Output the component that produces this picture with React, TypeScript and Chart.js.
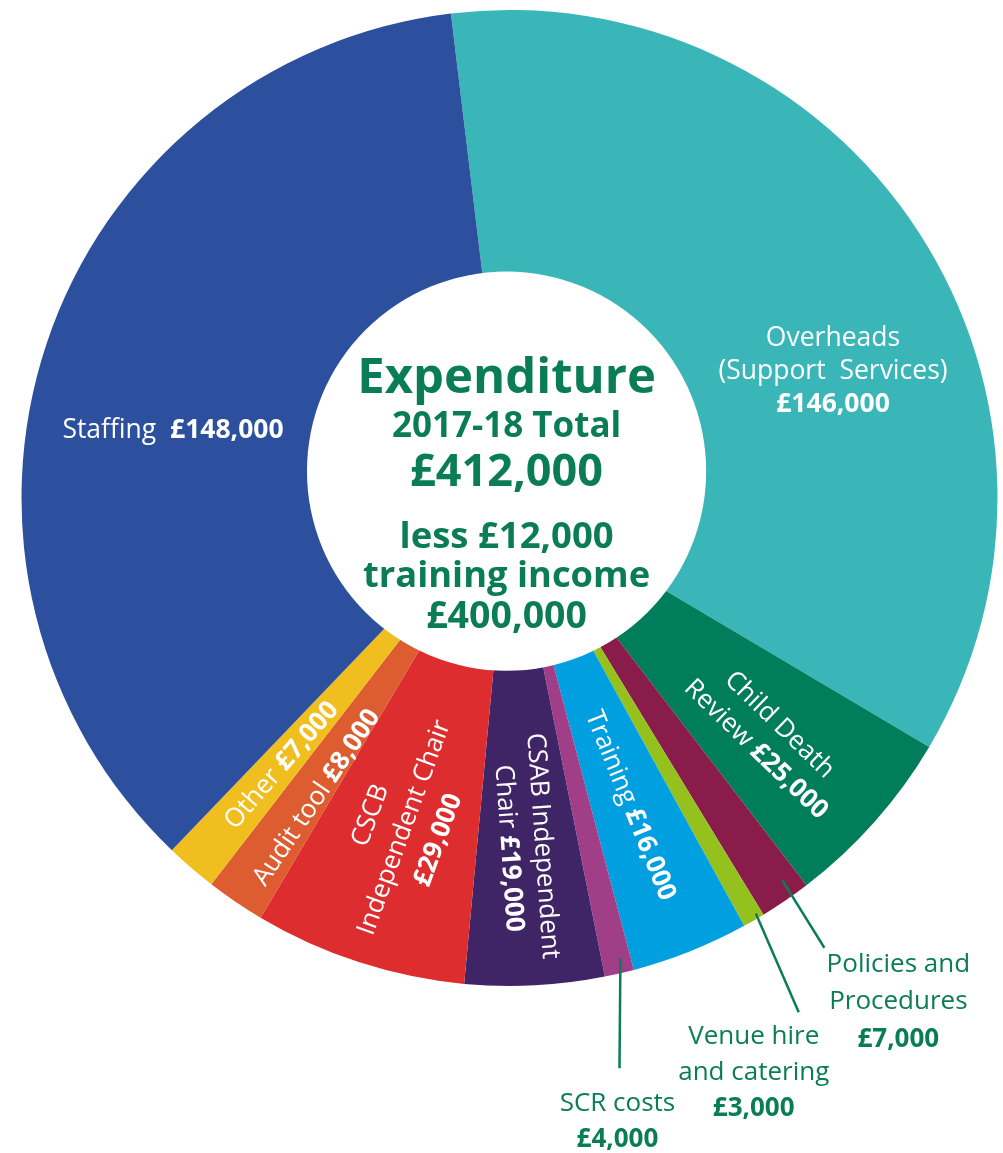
import { useEffect, useRef } from "react";
import { Chart, registerables } from "chart.js";

Chart.register(...registerables);

const FONT = '"Open Sans", "Noto Sans", sans-serif';
const GREEN = "#0A7D57";

// ---- data ----
const categories = [
  "Overheads (Support Services)",
  "Child Death Review",
  "Policies and Procedures",
  "Venue hire and catering",
  "Training",
  "SCR costs",
  "CSAB Independent Chair",
  "CSCB Independent Chair",
  "Audit tool",
  "Other",
  "Staffing",
];
const values = [146000, 25000, 7000, 3000, 16000, 4000, 19000, 29000, 8000, 7000, 148000];
const colors = [
  "#3AB6B9",
  "#007D5A",
  "#891C4A",
  "#95C11F",
  "#009FE0",
  "#A03F88",
  "#3F2566",
  "#DE2D2F",
  "#DD5D30",
  "#F0BE1E",
  "#2C4F9E",
];
const trainingIncome = 12000;

const money = (v: number) => "£" + v.toLocaleString("en-GB");
const total = values.reduce((a, c) => a + c, 0);

type Seg = [string, boolean];

// label text lines per slice (value segment is bold)
const sliceLines: Seg[][][] = [
  [[["Overheads", false]], [["(Support  Services)", false]], [[money(values[0]), true]]],
  [[["Child Death", false]], [["Review ", false], [money(values[1]), true]]],
  [],
  [],
  [[["Training ", false], [money(values[4]), true]]],
  [],
  [[["CSAB Independent", false]], [["Chair ", false], [money(values[6]), true]]],
  [[["CSCB", false]], [["Independent Chair", false]], [[money(values[7]), true]]],
  [[["Audit tool ", false], [money(values[8]), true]]],
  [[["Other ", false], [money(values[9]), true]]],
  [[["Staffing  ", false], [money(values[10]), true]]],
];

// layout of the slice labels (angle offset from mid in deg, radius fraction, rotation deg, font size, line height)
const sliceLayout = [
  { dA: 11.5, rF: 0.713, rot: 0, size: 26.5, lh: 33 },
  { dA: 0.9, rF: 0.721, rot: 44, size: 26, lh: 34 },
  null,
  null,
  { dA: 0, rF: 0.677, rot: 68, size: 26, lh: 34 },
  null,
  { dA: 0, rF: 0.716, rot: 86, size: 26, lh: 34 },
  { dA: 0, rF: 0.709, rot: -70, size: 26, lh: 36 },
  { dA: -1.1, rF: 0.73, rot: -56, size: 26, lh: 34 },
  { dA: 0, rF: 0.72, rot: -49, size: 26, lh: 34 },
  { dA: -6.8, rF: 0.704, rot: 0, size: 26.5, lh: 34 },
];

// outside labels with leader lines
const outsideLines: { i: number; lines: Seg[][] }[] = [
  { i: 2, lines: [[["Policies and", false]], [["Procedures", false]], [[money(values[2]), true]]] },
  { i: 3, lines: [[["Venue hire", false]], [["and catering", false]], [[money(values[3]), true]]] },
  { i: 5, lines: [[["SCR costs", false]], [[money(values[5]), true]]] },
];
const outsideLayout = [
  { sA: -1.1, sF: 0.962, eA: -0.57, eF: 1.125, tx: 74, ty: 24, lh: 37.5 },
  { sA: -0.6, sF: 0.99, eA: 0.7, eF: 1.209, tx: -45, ty: 32, lh: 36 },
  { sA: -0.55, sF: 0.969, eA: 2.1, eF: 1.19, tx: -2, ty: 43, lh: 35.5 },
];

// centre text
const centerText = [
  { t: "Expenditure", size: 49 },
  { t: "2017-18 Total", size: 35 },
  { t: money(total), size: 45 },
  { t: "less " + money(trainingIncome), size: 36.5 },
  { t: "training income", size: 36.3 },
  { t: money(total - trainingIncome), size: 37.5 },
];
const centerBaselines = [-78.5, -34.5, 14.5, 76.5, 115.5, 156.5];
const HOLE = { dx: -0.006, dy: -0.055, r: 0.409 };

function drawLine(ctx: CanvasRenderingContext2D, segs: Seg[], x: number, y: number, size: number) {
  const widths = segs.map(([t, b]) => {
    ctx.font = `${b ? 700 : 400} ${size}px ${FONT}`;
    return ctx.measureText(t).width;
  });
  const w = widths.reduce((a, c) => a + c, 0);
  let px = x - w / 2;
  segs.forEach(([t, b], k) => {
    ctx.font = `${b ? 700 : 400} ${size}px ${FONT}`;
    ctx.fillText(t, px, y);
    px += widths[k];
  });
}

const overlayPlugin = {
  id: "overlay",
  afterDatasetsDraw(chart: any) {
    const ctx: CanvasRenderingContext2D = chart.ctx;
    const meta = chart.getDatasetMeta(0);
    const a0 = meta.data[0] as any;
    const cx = a0.x;
    const cy = a0.y;
    const R = a0.outerRadius;
    const d2r = Math.PI / 180;
    const mid = (k: number) => {
      const a = meta.data[k] as any;
      return (a.startAngle + a.endAngle) / 2;
    };

    ctx.save();
    // white centre disc
    const hx = cx + HOLE.dx * R;
    const hy = cy + HOLE.dy * R;
    ctx.beginPath();
    ctx.arc(hx, hy, HOLE.r * R, 0, Math.PI * 2);
    ctx.fillStyle = "#ffffff";
    ctx.fill();

    ctx.textAlign = "left";
    ctx.textBaseline = "alphabetic";
    ctx.fillStyle = GREEN;
    centerText.forEach((l, k) => {
      drawLine(ctx, [[l.t, true]], hx, hy + centerBaselines[k], l.size);
    });

    // slice labels
    ctx.fillStyle = "#ffffff";
    sliceLines.forEach((lines, k) => {
      const lay = sliceLayout[k];
      if (!lay || !lines.length) return;
      const ang = mid(k) + lay.dA * d2r;
      const px = cx + Math.cos(ang) * lay.rF * R;
      const py = cy + Math.sin(ang) * lay.rF * R;
      ctx.save();
      ctx.translate(px, py);
      ctx.rotate(lay.rot * d2r);
      const n = lines.length;
      lines.forEach((segs, j) => {
        drawLine(ctx, segs, 0, (j - (n - 1) / 2) * lay.lh + 0.36 * lay.size, lay.size);
      });
      ctx.restore();
    });

    // outside labels
    outsideLines.forEach((o, k) => {
      const lay = outsideLayout[k];
      const m = mid(o.i);
      const sa = m + lay.sA * d2r;
      const ea = m + lay.eA * d2r;
      const sx = cx + Math.cos(sa) * lay.sF * R;
      const sy = cy + Math.sin(sa) * lay.sF * R;
      const ex = cx + Math.cos(ea) * lay.eF * R;
      const ey = cy + Math.sin(ea) * lay.eF * R;
      ctx.beginPath();
      ctx.moveTo(sx, sy);
      ctx.lineTo(ex, ey);
      ctx.strokeStyle = GREEN;
      ctx.lineWidth = 2.5;
      ctx.stroke();
      ctx.fillStyle = GREEN;
      o.lines.forEach((segs, j) => {
        drawLine(ctx, segs, ex + lay.tx, ey + lay.ty + j * lay.lh, 26);
      });
    });
    ctx.restore();
  },
};

export default function App() {
  const ref = useRef<HTMLCanvasElement | null>(null);
  useEffect(() => {
    if (!ref.current) return;
    const chart = new Chart(ref.current, {
      type: "doughnut",
      data: {
        labels: categories,
        datasets: [
          {
            data: values,
            backgroundColor: colors,
            borderWidth: 0,
            hoverOffset: 0,
          },
        ],
      },
      options: {
        animation: false,
        responsive: true,
        maintainAspectRatio: false,
        rotation: -6.9,
        cutout: "30%",
        layout: { padding: { left: 21, right: 5, top: 10, bottom: 167 } },
        events: [],
        plugins: {
          legend: { display: false },
          tooltip: { enabled: false },
        },
      },
      plugins: [overlayPlugin],
    });
    return () => chart.destroy();
  }, []);
  return (
    <div style={{ position: "absolute", left: 0, top: 0, width: 1003, height: 1153, background: "#fff" }}>
      <canvas ref={ref} />
    </div>
  );
}
